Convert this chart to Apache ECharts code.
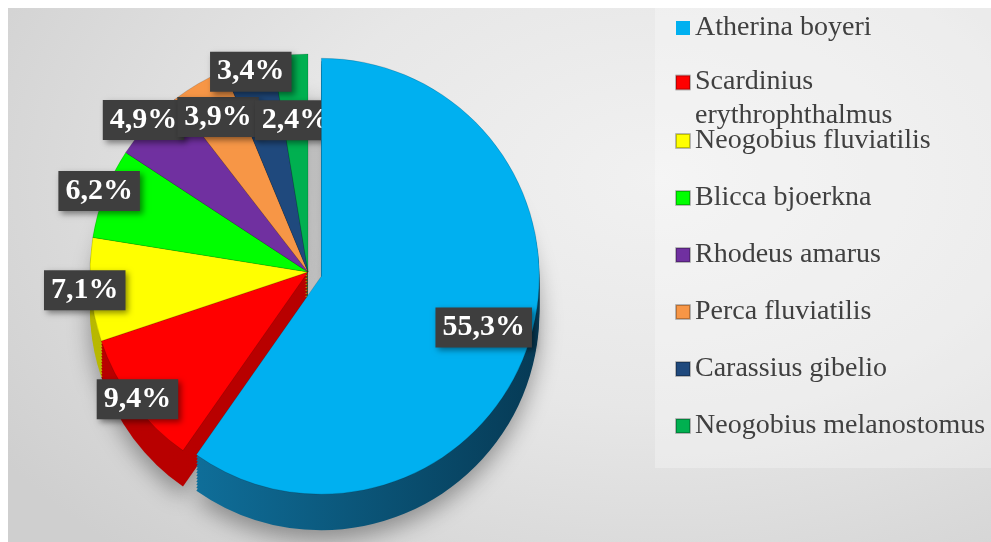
<!DOCTYPE html>
<html>
<head>
<meta charset="utf-8">
<script src="https://cdn.jsdelivr.net/npm/echarts@6/dist/echarts.min.js"></script>
<style>
  html, body { margin: 0; padding: 0; background: #fff; }
  #bg {
    position: absolute; left: 8px; top: 8px; right: 0; bottom: 0;
    background: radial-gradient(ellipse 80% 95% at 66% 32%, #f1f1f1 0%, #e7e7e7 45%, #cfcfcf 100%);
  }
  #legendPanel {
    position: absolute; left: 655px; top: 8px; right: 0; height: 460px;
    background: rgba(255,255,255,0.28);
  }
  #main { position: absolute; left: 0; top: 0; width: 991px; height: 542px; }
</style>
</head>
<body>
<div id="bg"></div>
<div id="legendPanel"></div>
<div id="main"></div>
<script>
// species and their share (%)
var species = [
  "Atherina boyeri",
  "Scardinius erythrophthalmus",
  "Neogobius fluviatilis",
  "Blicca bjoerkna",
  "Rhodeus amarus",
  "Perca fluviatilis",
  "Carassius gibelio",
  "Neogobius melanostomus"
];
var shares = [55.3, 9.4, 7.1, 6.2, 4.9, 3.9, 3.4, 2.4];

// colours of the top face and of the side wall
var topColors = ["#00b0f0", "#ff0000", "#ffff00", "#00ff00", "#7030a0", "#f79646", "#1f497d", "#00b050"];
var sideColors = [
  new echarts.graphic.LinearGradient(0, 0, 1, 0, [
    { offset: 0, color: "#0f6e99" },
    { offset: 1, color: "#063a55" }
  ]),
  "#b80000", "#b8b800", "#00a800", "#4b1f6c", "#b56a2c", "#132e50", "#00773a"
];

// how far out along each slice the label sits (fraction of radius)
var labelRadius = [0.76, 0.95, 1.0, 1.0, 1.0, 0.8, 0.93, 0.68];

var CX = 308, CY = 272, R = 218, DEPTH = 36, EXPLODE = 14;

var myChart = echarts.init(document.getElementById("main"));

// the first slice is pulled out along its middle direction
var total = shares.reduce(function (a, b) { return a + b; }, 0);
var midA = (shares[0] / total) * Math.PI; // half of its sweep, clockwise from top
var EX = EXPLODE * Math.sin(midA);
var EY = -EXPLODE * Math.cos(midA);

function sliceData(colors, onlyFirst, withLabel) {
  return species.map(function (name, i) {
    var visible = onlyFirst ? i === 0 : i !== 0;
    return {
      name: name,
      value: shares[i],
      itemStyle: visible ? { color: colors[i] } : { color: "rgba(0,0,0,0)", borderWidth: 0, shadowBlur: 0 },
      label: { show: visible && withLabel }
    };
  });
}

function makePie(cx, cy, colors, onlyFirst, z, withLabel, extraStyle) {
  var s = {
    type: "pie",
    z: z,
    center: [cx, cy],
    radius: R,
    startAngle: 90,
    clockwise: true,
    avoidLabelOverlap: false,
    animation: false,
    silent: true,
    emphasis: { disabled: true },
    itemStyle: extraStyle || {},
    labelLine: { show: false },
    data: sliceData(colors, onlyFirst, withLabel)
  };
  if (withLabel) {
    s.label = {
      show: true,
      position: "inside",
      formatter: function (p) {
        return String(p.value).replace(".", ",") + "%";
      },
      color: "#ffffff",
      fontFamily: "Liberation Serif",
      fontWeight: "bold",
      fontSize: 30,
      lineHeight: 32,
      backgroundColor: "#3e3e3e",
      padding: [4, 7],
      shadowColor: "rgba(0,0,0,0.45)",
      shadowBlur: 6,
      shadowOffsetX: 3,
      shadowOffsetY: 3
    };
    s.labelLayout = function (params) {
      var lr = params.labelRect;
      var mx = lr.x + lr.width / 2;
      var my = lr.y + lr.height / 2;
      var f = labelRadius[params.dataIndex] / 0.5;
      return {
        x: cx + (mx - cx) * f,
        y: cy + (my - cy) * f,
        align: "center",
        verticalAlign: "middle"
      };
    };
  } else {
    s.label = { show: false };
  }
  return s;
}

var series = [];
var topBorder = { borderColor: "rgba(0,0,0,0.25)", borderWidth: 0.6 };
// top faces: the rest of the pie, then the pulled-out slice
series.push(makePie(CX, CY, topColors, false, 3, true, topBorder));
series.push(makePie(CX + EX, CY + EY, topColors, true, 4, true, topBorder));

// side wall, stacked copies going down
for (var d = DEPTH; d > 0; d -= 3) {
  var shade = d === DEPTH ? { shadowColor: "rgba(0,0,0,0.35)", shadowBlur: 22, shadowOffsetY: 10 } : {};
  series.push(makePie(CX, CY + d, sideColors, false, 1, false, shade));
  series.push(makePie(CX + EX, CY + EY + d, sideColors, true, 1, false, shade));
}

var legendFont = { fontFamily: "Liberation Serif", fontSize: 28, color: "#404040" };
function legendBlock(from, to, top, gap) {
  var items = [];
  for (var i = from; i < to; i++) {
    items.push({ name: species[i], itemStyle: { color: topColors[i] } });
  }
  return {
    orient: "vertical",
    left: 675,
    top: top,
    padding: 0,
    itemWidth: 14,
    itemHeight: 14,
    itemGap: gap,
    icon: "rect",
    selectedMode: false,
    data: items,
    formatter: function (name) {
      if (name === "Scardinius erythrophthalmus") {
        return "{a|Scardinius}\n{b|erythrophthalmus}";
      }
      return "{a|" + name + "}";
    },
    textStyle: {
      fontFamily: "Liberation Serif",
      fontSize: 28,
      color: "#404040",
      rich: {
        a: Object.assign({ lineHeight: 33 }, legendFont),
        b: Object.assign({ lineHeight: 1, height: 34, verticalAlign: "top" }, legendFont)
      }
    }
  };
}

myChart.setOption({
  backgroundColor: "transparent",
  legend: [
    legendBlock(0, 2, 14, 26),
    legendBlock(2, species.length, 127, 29)
  ],
  series: series
});
window.addEventListener("resize", function () {
  myChart.resize();
});
</script>
</body>
</html>
